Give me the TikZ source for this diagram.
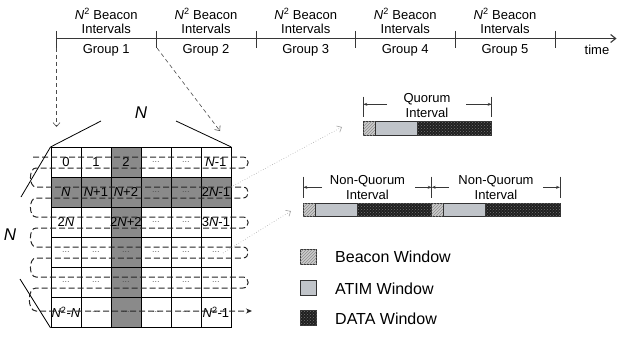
\documentclass[tikz,border=0pt]{standalone}
\usepackage{fontspec}
\setmainfont{Liberation Sans}
\usetikzlibrary{arrows.meta,patterns}
\definecolor{cellgray}{RGB}{138,138,138}
\definecolor{atimcol}{RGB}{192,196,201}
\definecolor{linegray}{RGB}{55,55,55}
\newcommand\NN{\textit{N}}
\newcommand\dts{{\fontsize{8}{8}\selectfont\color{black!75}\ldots}}
\begin{document}
\begin{tikzpicture}[x=1pt,y=-1pt,
  lbl/.style={font=\fontsize{13}{14.4}\selectfont, inner sep=0pt, align=center},
  biglbl/.style={font=\fontsize{17}{17}\selectfont\itshape, inner sep=0pt},
  leglbl/.style={font=\fontsize{16}{16}\selectfont, inner sep=0pt, anchor=west},
  cellbox/.style={draw=black, line width=0.8pt, minimum size=30pt, inner sep=0pt, anchor=north west},
  celltxt/.style={font=\fontsize{13}{13}\selectfont, inner sep=0pt},
  tickline/.style={line width=1pt, draw=linegray},
  bcn/.style={draw=black!80, line width=0.6pt, fill=gray!40, postaction={pattern=north east lines, pattern color=gray!90}},
  atimw/.style={draw=black!80, line width=0.6pt, fill=atimcol},
  dataw/.style={draw=black!80, line width=0.6pt, fill=black!88, postaction={pattern=crosshatch dots, pattern color=black!55}},
  grparrow/.style={dash pattern=on 4pt off 3pt, line width=0.6pt, draw=black!70, -{Straight Barb[length=4pt,width=7pt]}},
  zoomarrow/.style={dotted, line width=0.6pt, draw=gray!70, -{Straight Barb[length=4pt,width=7pt]}},
  scanpath/.style={dash pattern=on 6pt off 3pt, line width=1pt, draw=black!85, -{Stealth[length=6pt,width=5pt]}},
  dimarrow/.style={line width=0.8pt, draw=linegray, -{Stealth[length=4pt,width=3pt]}},
  edgeline/.style={line width=0.8pt, draw=black},
]
\useasboundingbox (0,0) rectangle (618,337);

% ---------- timeline ----------
\coordinate (tl0) at (56.5,38.5);
\coordinate (tlend) at (616.5,38.5);
\draw[line width=1.1pt, draw=linegray, -{Straight Barb[length=5pt,width=8pt]}] (tl0) -- (tlend);
\foreach \x in {56.5,156,256,355.5,455,555}{
  \draw[tickline] (\x,31) -- (\x,48);
}
\foreach \x/\g in {106.25/1,206/2,305.75/3,405.25/4,505/5}{
  \node[lbl] (bi\g) at (\x,21.2) {\NN\textsuperscript{2} Beacon\\Intervals};
  \node[lbl] (gr\g) at (\x,50.7) {Group \g};
}
\node[lbl] (timelbl) at (597,50) {time};

% ---------- grid ----------
\foreach \r in {1,...,6}{
  \foreach \c in {1,...,6}{
    \ifnum\c=3 \def\cf{cellgray}\else\ifnum\r=2 \def\cf{cellgray}\else\def\cf{white}\fi\fi
    \node[cellbox, fill=\cf] (c\r\c) at ({50.5+30*(\c-1)},{147+30*(\r-1)}) {};
  }
}
% cell texts
\node[celltxt] (t11) at (c11) {0};
\node[celltxt] (t12) at (c12) {1};
\node[celltxt] (t13) at (c13) {2};
\node[celltxt] (t14) at (c14) {\dts};
\node[celltxt] (t15) at (c15) {\dts};
\node[celltxt] (t16) at (c16) {\NN-1};
\node[celltxt] (t21) at (c21) {\NN};
\node[celltxt] (t22) at (c22) {\NN+1};
\node[celltxt] (t23) at (c23) {\NN+2};
\node[celltxt] (t24) at (c24) {\dts};
\node[celltxt] (t25) at (c25) {\dts};
\node[celltxt] (t26) at (c26) {2\NN-1};
\node[celltxt] (t31) at (c31) {2\NN};
\node[celltxt] (t33) at (c33) {2\NN+2};
\node[celltxt] (t34) at (c34) {\dts};
\node[celltxt] (t35) at (c35) {\dts};
\node[celltxt] (t36) at (c36) {3\NN-1};
\foreach \r in {4,5}{
  \foreach \c in {1,...,6}{
    \node[celltxt] (t\r\c) at (c\r\c) {\dts};
  }
}
\node[celltxt] (t61) at (c61) {\NN\textsuperscript{2}-\NN};
\foreach \c in {2,...,5}{
  \node[celltxt] (t6\c) at (c6\c) {\dts};
}
\node[celltxt] (t66) at (c66) {\NN\textsuperscript{2}-1};

% scan path
\draw[scanpath] (33,157) -- (243,157) to[out=0,in=0,looseness=1.6] (243,168)
  -- (36,168) to[out=180,in=180] (36,187) -- (243,187) to[out=0,in=0,looseness=1.6] (243,198)
  -- (36,198) to[out=180,in=180] (36,217) -- (243,217) to[out=0,in=0,looseness=1.6] (243,228)
  -- (36,228) to[out=180,in=180] (36,247) -- (243,247) to[out=0,in=0,looseness=1.6] (243,258)
  -- (36,258) to[out=180,in=180] (36,277) -- (243,277) to[out=0,in=0,looseness=1.6] (243,288)
  -- (36,288) to[out=180,in=180] (36,311) -- (252,311);

% N labels and brackets
\node[biglbl] (topN) at (141,113) {N};
\coordinate (h1) at (101,121);
\coordinate (h2) at (176,121);
\draw[edgeline] (c11.north west) -- (h1);
\draw[edgeline] (h2) -- (c16.north east);
\node[biglbl] (leftN) at (10,235) {N};
\coordinate (v1) at (21,197);
\coordinate (v2) at (20,279);
\draw[edgeline] (c11.north west) -- (v1);
\draw[edgeline] (c61.south west) -- (v2);

% group arrows
\coordinate (ga) at (56.5,48);
\coordinate (gb) at (56.5,127);
\coordinate (gc) at (157,48);
\coordinate (gd) at (220,131);
\draw[grparrow] (ga) -- (gb);
\draw[grparrow] (gc) -- (gd);

% zoom arrows
\coordinate (za) at (231,187);
\coordinate (zb) at (342,127);
\coordinate (zc) at (223,253);
\coordinate (zd) at (291,211);
\draw[zoomarrow] (za) -- (zb);
\draw[zoomarrow] (zc) -- (zd);

% ---------- interval bars ----------
\foreach \x/\y in {363.3/121.7, 303.3/203, 431.7/203}{
  \draw[bcn] (\x,\y) rectangle ({\x+12},{\y+13.6});
  \draw[atimw] ({\x+12},\y) rectangle ({\x+54},{\y+13.6});
  \draw[dataw] ({\x+54},\y) rectangle ({\x+128.4},{\y+13.6});
}

% quorum dimension
\draw[tickline] (363.3,96.7) -- (363.3,116.7);
\draw[tickline] (491.7,96.7) -- (491.7,116.7);
\coordinate (q0) at (363.3,104.3);
\coordinate (qa) at (387,104.3);
\coordinate (qb) at (466,104.3);
\coordinate (q1) at (491.7,104.3);
\draw[dimarrow] (qa) -- (q0);
\draw[dimarrow] (qb) -- (q1);
\node[lbl] (qlbl) at (427,105.5) {Quorum\\Interval};

% non-quorum dimensions
\foreach \x in {303.3,431.7,560}{
  \draw[tickline] (\x,176.7) -- (\x,198.3);
}
\coordinate (n0) at (303.3,187.3);
\coordinate (na) at (322,187.3);
\coordinate (nb) at (415,187.3);
\coordinate (n1) at (431.7,187.3);
\coordinate (nc) at (449,187.3);
\coordinate (nd) at (543,187.3);
\coordinate (n2) at (560,187.3);
\draw[dimarrow] (na) -- (n0);
\draw[dimarrow] (nb) -- (n1);
\draw[dimarrow] (nc) -- (n1);
\draw[dimarrow] (nd) -- (n2);
\node[lbl] (nq1) at (367.5,187.5) {Non-Quorum\\Interval};
\node[lbl] (nq2) at (496,187.5) {Non-Quorum\\Interval};

% ---------- legend ----------
\draw[bcn] (300,249.5) rectangle (316.5,264.5);
\draw[atimw] (300,280) rectangle (316.5,295);
\draw[dataw] (300,310) rectangle (316.5,325);
\node[leglbl] (lg1) at (335,256.5) {Beacon Window};
\node[leglbl] (lg2) at (335,288.5) {ATIM Window};
\node[leglbl] (lg3) at (335,318.5) {DATA Window};
\end{tikzpicture}
\end{document}
